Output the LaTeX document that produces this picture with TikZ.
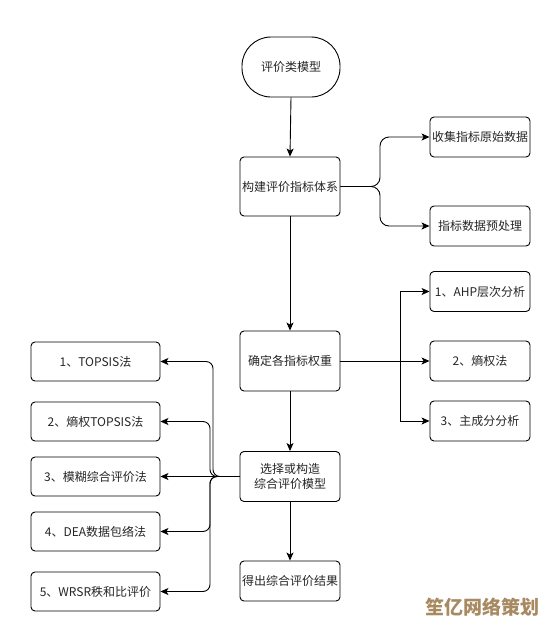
\documentclass[tikz,border=0pt]{standalone}
\usepackage{fontspec}
\setmainfont{Noto Sans CJK SC}
\usetikzlibrary{arrows.meta}
\begin{document}
\begin{tikzpicture}[x=1pt,y=-1pt,
  box/.style={draw=black,line width=0.9pt,rounded corners=4pt,minimum width=100pt,minimum height=40pt,inner sep=1pt,align=center,font=\fontsize{12pt}{15pt}\selectfont,text=black!85},
  lbox/.style={box,minimum width=129pt,minimum height=39pt},
  arr/.style={draw=black,line width=0.9pt,-{Stealth[length=8pt,width=7pt,inset=2pt]}}]
\useasboundingbox (0,0) rectangle (555,627);
\fill[white] (0,0) rectangle (555,627);
\node[box,minimum width=98pt,minimum height=60pt,rounded corners=29pt] (m0) at (291,67) {评价类模型};
\node[box,minimum height=59pt] (n1) at (290,186.5) {构建评价指标体系};
\node[box] (r1) at (480,137) {收集指标原始数据};
\node[box] (r2) at (480,226) {指标数据预处理};
\node[box,minimum height=60pt] (n2) at (290,361) {确定各指标权重};
\node[box] (a1) at (480,291.5) {1、AHP层次分析};
\node[box] (a2) at (480,361) {2、熵权法};
\node[box] (a3) at (480,421) {3、主成分分析};
\node[box,minimum height=50pt] (n3) at (290,476.5) {选择或构造\\综合评价模型};
\node[box] (n4) at (290,581) {得出综合评价结果};
\node[lbox] (l1) at (95.5,361.5) {1、TOPSIS法};
\node[lbox] (l2) at (95.5,421.5) {2、熵权TOPSIS法};
\node[lbox] (l3) at (95.5,476.5) {3、模糊综合评价法};
\node[lbox] (l4) at (95.5,531.5) {4、DEA数据包络法};
\node[lbox] (l5) at (95.5,591.5) {5、WRSR秩和比评价};
% main flow
\draw[arr] (m0.south) -- (n1.north);
\draw[arr] (n1.south) -- (n2.north);
\draw[arr] (n2.south) -- (n3.north);
\draw[arr] (n3.south) -- (n4.north);
% top-right brace
\draw[arr,rounded corners=9pt] (n1.east) -- (380,186.5) |- (r1.west);
\draw[arr,rounded corners=9pt] (n1.east) -- (380,186.5) |- (r2.west);
% weights
\draw[arr] (n2.east) -- (400,361) |- (a1.west);
\draw[arr] (n2.east) -- (a2.west);
\draw[arr] (n2.east) -- (400,361) |- (a3.west);
% left fan
\draw[arr,rounded corners=7pt] (n3.west) -- (213,476.5) |- (l1.east);
\draw[arr,rounded corners=7pt] (n3.west) -- (210,476.5) |- (l2.east);
\draw[arr] (n3.west) -- (l3.east);
\draw[arr,rounded corners=7pt] (n3.west) -- (210,476.5) |- (l4.east);
\draw[arr,rounded corners=7pt] (n3.west) -- (210,476.5) |- (l5.east);
% watermark
\node[inner sep=0pt,text={rgb,255:red,168;green,138;blue,98},font=\fontsize{19pt}{22pt}\selectfont\bfseries] (wm) at (482,607) {笙亿网络策划};
\end{tikzpicture}
\end{document}
